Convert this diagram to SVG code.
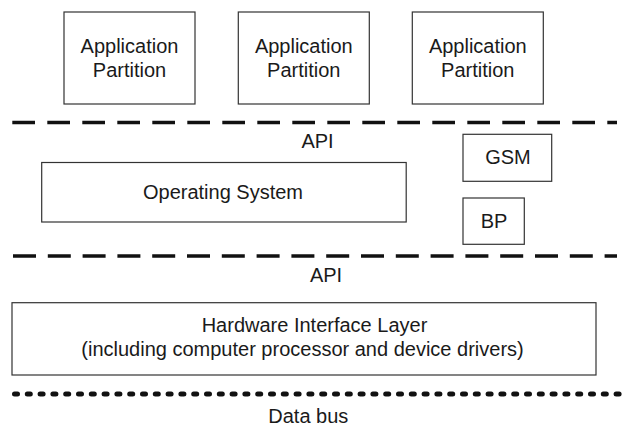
<svg xmlns="http://www.w3.org/2000/svg" width="623" height="426" viewBox="0 0 623 426">
<style>
.box{fill:#fff;stroke:#333;stroke-width:1.2}
.t{font-family:"Liberation Sans",Arial,Helvetica,sans-serif;font-size:20px;fill:#1a1a1a;text-anchor:middle}
.dash{stroke:#111;stroke-width:3.5;fill:none}
.dot{stroke:#111;stroke-width:5;fill:none;stroke-linecap:round;stroke-dasharray:3 9.8}
</style>
<rect width="623" height="426" fill="#fff"/>
<g id="connectors">
<line class="dash" x1="12.3" y1="122.5" x2="617" y2="122.5" stroke-dasharray="22.7 12.3"/>
<line class="dash" x1="13" y1="256" x2="617" y2="256" stroke-dasharray="23 11.8"/>
<line class="dot" x1="14.5" y1="394" x2="621" y2="394"/>
</g>
<g id="app1"><rect class="box" x="64" y="12" width="131" height="92"/><text class="t" x="129.5" y="52.7">Application</text><text class="t" x="129.5" y="77.3">Partition</text></g>
<g id="app2"><rect class="box" x="238.3" y="12" width="131" height="92"/><text class="t" x="303.8" y="52.7">Application</text><text class="t" x="303.8" y="77.3">Partition</text></g>
<g id="app3"><rect class="box" x="412.3" y="12" width="131" height="92"/><text class="t" x="477.8" y="52.7">Application</text><text class="t" x="477.8" y="77.3">Partition</text></g>
<g id="api1"><text class="t" x="317.5" y="148">API</text></g>
<g id="os"><rect class="box" x="41.7" y="162.5" width="364.5" height="59.5"/><text class="t" x="223" y="199.3">Operating System</text></g>
<g id="gsm"><rect class="box" x="463" y="134.3" width="88.7" height="47"/><text class="t" x="508" y="164">GSM</text></g>
<g id="bp"><rect class="box" x="463" y="198" width="61.3" height="46.3"/><text class="t" x="494" y="228.3">BP</text></g>
<g id="api2"><text class="t" x="326" y="282.3">API</text></g>
<g id="hil"><rect class="box" x="12" y="302.7" width="584" height="72.3"/><text class="t" x="314.5" y="332">Hardware Interface Layer</text><text class="t" x="302.5" y="356">(including computer processor and device drivers)</text></g>
<g id="databus"><text class="t" x="308.3" y="422.7">Data bus</text></g>
</svg>
